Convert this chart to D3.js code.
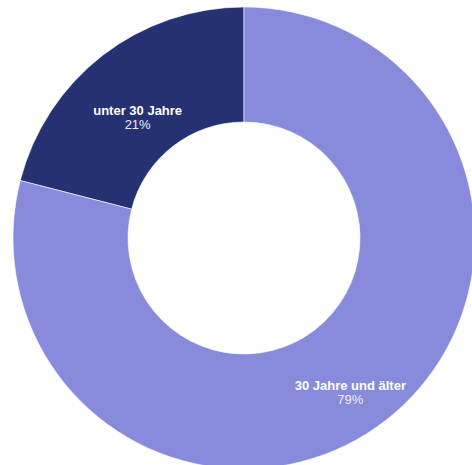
<!DOCTYPE html>
<html>
<head>
<meta charset="utf-8">
<script src="https://cdn.jsdelivr.net/npm/d3@7"></script>
<style>
  html, body { margin: 0; padding: 0; background: #fff; overflow: hidden; }
  svg { display: block; }
</style>
</head>
<body>
<svg id="chart" width="472" height="465"></svg>
<script>
const categories = ["unter 30 Jahre", "30 Jahre und älter"];
const values = [21, 79];
const colors = ["#253173", "#888bdb"];

const width = 472, height = 465;
const cx = 244, cy = 238;
const outerR = 231, innerR = 116;

const svg = d3.select("#chart");
const g = svg.append("g").attr("transform", `translate(${cx},${cy})`);

const data = categories.map((c, i) => ({ name: c, value: values[i], color: colors[i] }));

const pie = d3.pie().value(d => d.value).sort(null)
  .startAngle(-values[0] / 100 * 2 * Math.PI)
  .endAngle(2 * Math.PI - values[0] / 100 * 2 * Math.PI);

const arc = d3.arc().innerRadius(innerR).outerRadius(outerR);
const arcs = pie(data);

g.selectAll("path").data(arcs).enter().append("path")
  .attr("d", arc)
  .attr("fill", d => d.data.color)
  .attr("stroke", "#ffffff")
  .attr("stroke-width", 0.6);

const labels = g.selectAll("g.lbl").data(arcs).enter().append("g")
  .attr("class", "lbl")
  .attr("transform", d => { const c = arc.centroid(d); return `translate(${c[0]},${c[1]})`; });

labels.append("text")
  .attr("text-anchor", "middle")
  .attr("y", 14.5)
  .attr("font-family", "Liberation Sans, Arial, sans-serif")
  .attr("font-size", 13)
  .attr("font-weight", "bold")
  .attr("fill", "#ffffff")
  .text(d => d.data.name);

labels.append("text")
  .attr("text-anchor", "middle")
  .attr("y", 28.5)
  .attr("font-family", "Liberation Sans, Arial, sans-serif")
  .attr("font-size", 13)
  .attr("fill", "#eeeeee")
  .text(d => d.data.value + "%");
</script>
</body>
</html>
